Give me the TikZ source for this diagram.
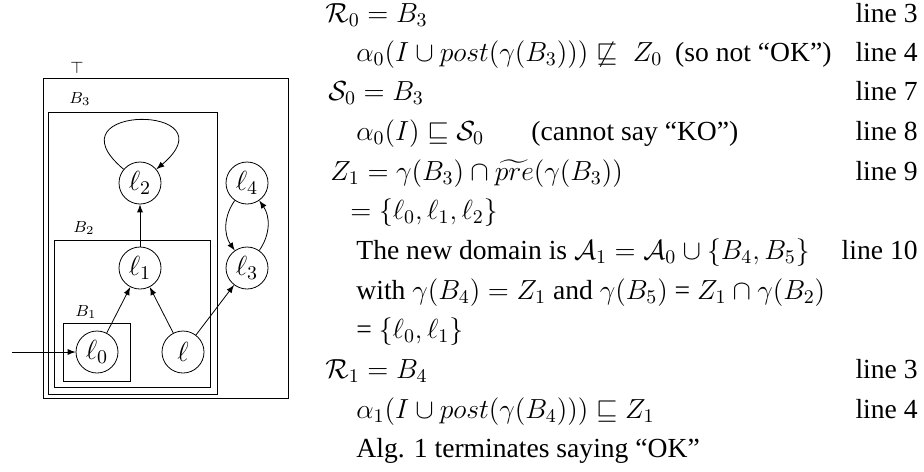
\documentclass[tikz,border=0pt]{standalone}
\usepackage{fix-cm}
\usepackage[no-math]{fontspec}
\setmainfont{Liberation Serif}
\usepackage{amsmath,amssymb}
\usepackage{tikz}

\begin{document}
\begin{tikzpicture}[x=0.5pt,y=-0.5pt,>=latex,
  every node/.style={font=\fontsize{13.8}{16}\selectfont},
  state/.style={draw,circle,minimum size=21pt,inner sep=0pt},
  boxlabel/.style={font=\fontsize{8}{9}\selectfont,inner sep=0pt},
  row/.style={anchor=base west,inner sep=0pt},
  lineno/.style={anchor=base east,inner sep=0pt}]
\useasboundingbox (0,0) rectangle (924,471);
% the abstract domain
\draw (43,78) rectangle (288,398);
\node[boxlabel] (top) at (77,68) {$\top$};
\draw (48,112) rectangle (217,394);
\node[boxlabel] (b3) at (80,99) {$B_3$};
\draw (54,240) rectangle (210,387);
\node[boxlabel] (b2) at (84,228) {$B_2$};
\draw (63,323) rectangle (130,381);
\node[boxlabel] (b1) at (86,312) {$B_1$};
% the states
\node[state] (l0) at (97,352) {$\ell_0$};
\node[state] (l) at (183,352) {$\ell$};
\node[state] (l1) at (140,268) {$\ell_1$};
\node[state] (l2) at (140,183) {$\ell_2$};
\node[state] (l3) at (247,268) {$\ell_3$};
\node[state] (l4) at (247,183) {$\ell_4$};
\coordinate (init) at (12,352);
\draw[->] (init) -- (l0);
\draw[->] (l0) -- (l1);
\draw[->] (l) -- (l1);
\draw[->] (l1) -- (l2);
\draw[->] (l2) to[out=140,in=40,looseness=8] (l2);
\draw[->] (l) -- (l3);
\draw[->] (l4) to[bend right=35] (l3);
\draw[->] (l3) to[bend right=35] (l4);
% the run of the algorithm
\node[row] (r0) at (325,22) {$\mathcal{R}_0 = B_3$};
\node[lineno] (n0) at (918,22) {line 3};
\node[row] (r1) at (356,61) {$\alpha_0(I \cup post(\gamma(B_3))) \not\sqsubseteq\; Z_0$\hspace{3pt} (so not ``OK'')};
\node[lineno] (n1) at (918,61) {line 4};
\node[row] (r2) at (328,100) {$\mathcal{S}_0 = B_3$};
\node[lineno] (n2) at (918,100) {line 7};
\node[row] (r3) at (356,140) {$\alpha_0(I) \sqsubseteq \mathcal{S}_0$};
\node[row] (r3b) at (531,140) {(cannot say ``KO'')};
\node[lineno] (n3) at (918,140) {line 8};
\node[row] (r4) at (330,180) {$Z_1 = \gamma(B_3) \cap \widetilde{pre}(\gamma(B_3))$};
\node[lineno] (n4) at (918,180) {line 9};
\node[row] (r5) at (350,219) {$=\{\ell_0,\ell_1,\ell_2\}$};
\node[row] (r6) at (356,259) {The new domain is $\mathcal{A}_1 = \mathcal{A}_0 \cup \{B_4,B_5\}$};
\node[lineno] (n6) at (918,259) {line 10};
\node[row] (r7) at (356,299) {with $\gamma(B_4) = Z_1$ and $\gamma(B_5)$ = $Z_1 \cap \gamma(B_2)$};
\node[row] (r8) at (356,338) {= $\{\ell_0,\ell_1\}$};
\node[row] (r9) at (325,378) {$\mathcal{R}_1 = B_4$};
\node[lineno] (n9) at (918,378) {line 3};
\node[row] (r10) at (356,418) {$\alpha_1(I \cup post(\gamma(B_4))) \sqsubseteq Z_1$};
\node[lineno] (n10) at (918,418) {line 4};
\node[row] (r11) at (356,457) {Alg. 1 terminates saying ``OK''};
\end{tikzpicture}
\end{document}
